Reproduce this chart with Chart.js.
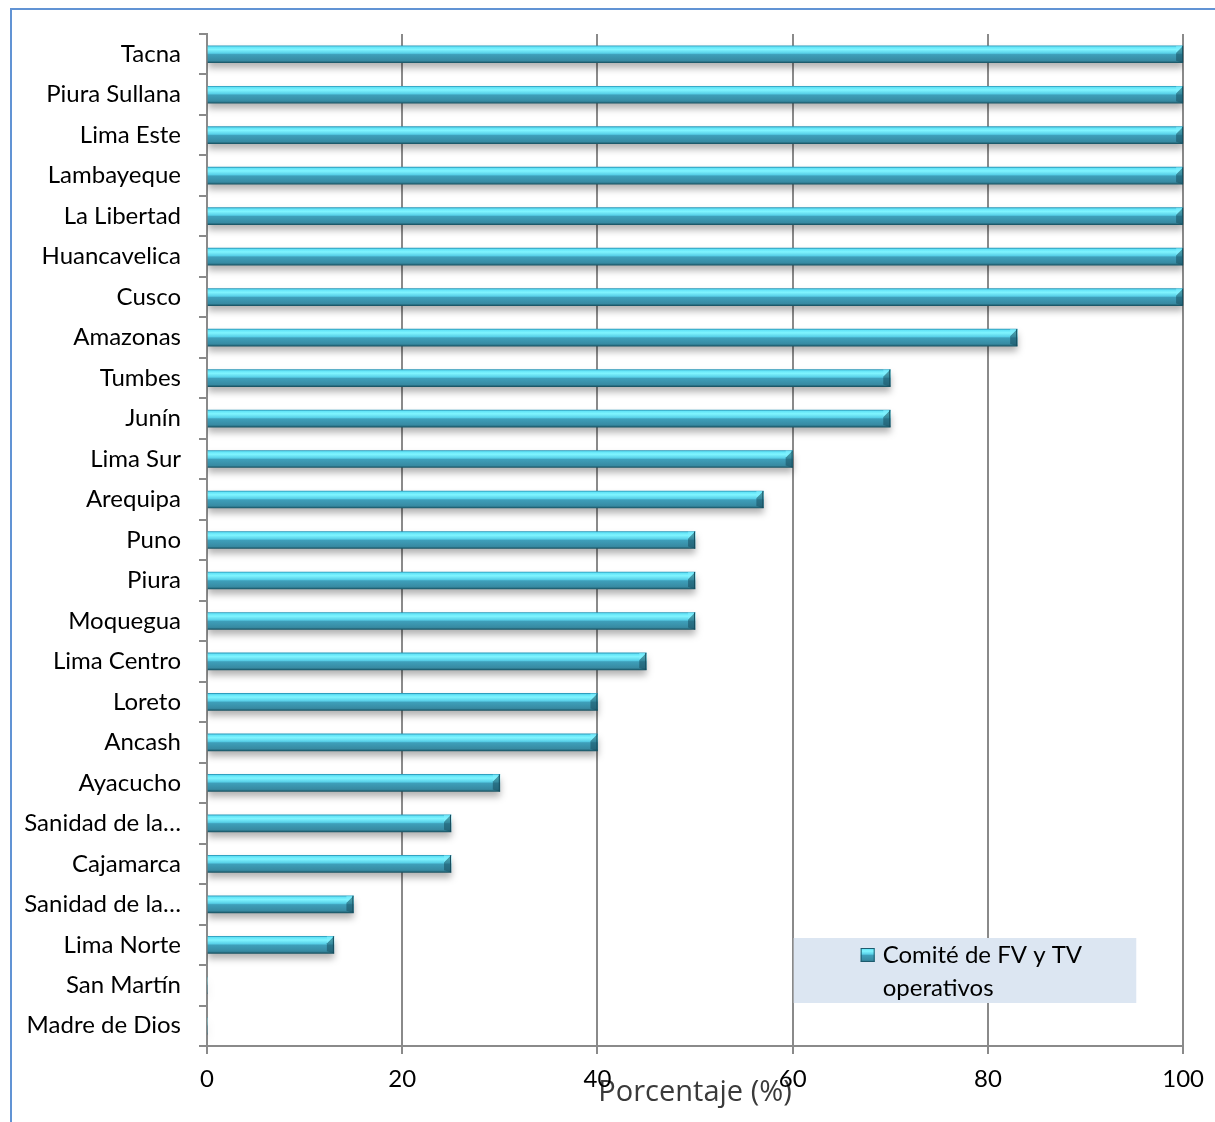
<!DOCTYPE html>
<html>
<head>
<meta charset="utf-8">
<script src="https://cdn.jsdelivr.net/npm/chart.js@4/dist/chart.umd.min.js"></script>
<style>
  html, body { margin: 0; padding: 0; background: #fff; overflow: hidden; }
  #frame {
    position: absolute; left: 10px; top: 8px; width: 1240px; height: 1140px;
    border-left: 2px solid #6193d4; border-top: 2px solid #6193d4;
  }
  #wrap { position: absolute; left: 0; top: 0; width: 1215px; height: 1122px; }
</style>
</head>
<body>
<div id="frame"></div>
<div id="wrap"><canvas id="grafico"></canvas></div>
<script>
// Regiones (de arriba hacia abajo, como en la figura)
const regiones = [
    'Tacna', 'Piura Sullana', 'Lima Este', 'Lambayeque', 'La Libertad',
    'Huancavelica', 'Cusco', 'Amazonas', 'Tumbes', 'Junín',
    'Lima Sur', 'Arequipa', 'Puno', 'Piura', 'Moquegua',
    'Lima Centro', 'Loreto', 'Ancash', 'Ayacucho', 'Sanidad de la…',
    'Cajamarca', 'Sanidad de la…', 'Lima Norte', 'San Martín', 'Madre de Dios'
];
// Porcentaje de comités operativos
const porcentajes = [
    100, 100, 100, 100, 100,
    100, 100, 83, 70, 70,
    60, 57, 50, 50, 50,
    45, 40, 40, 30, 25,
    25, 15, 13, 0, 0
];
const ticksX = [0, 20, 40, 60, 80, 100];
const etiquetaSerie = ['Comité de FV y TV', 'operativos'];
const tituloX = 'Porcentaje (%)';

const fuente = 'Lato, "Open Sans", sans-serif';
const gris = '#8a8a8a';
const grosorBarra = 17;

// Degradado vertical tipo "bisel" para cada barra
function degradado(c, yMid, h) {
    const g = c.createLinearGradient(0, yMid - h / 2, 0, yMid + h / 2);
    g.addColorStop(0, '#2b99b9');
    g.addColorStop(0.07, '#62e3f7');
    g.addColorStop(0.22, '#80f5ff');
    g.addColorStop(0.44, '#58d0e8');
    g.addColorStop(0.52, '#3e9fba');
    g.addColorStop(0.88, '#378aa2');
    g.addColorStop(1, '#1a5565');
    return g;
}

// Sombra bajo las barras
const sombra = {
    id: 'sombra',
    beforeDatasetsDraw(chart) {
        const c = chart.ctx;
        c.save();
        c.shadowColor = 'rgba(0,0,0,0.3)';
        c.shadowBlur = 7;
        c.shadowOffsetY = 5;
    },
    afterDatasetsDraw(chart) {
        chart.ctx.restore();
        // bisel en el extremo derecho
        const c = chart.ctx;
        chart.getDatasetMeta(0).data.forEach((bar, i) => {
            if (!porcentajes[i]) return;
            const h = grosorBarra, x = bar.x, y = bar.y - h / 2, w = 7;
            c.save();
            c.fillStyle = 'rgba(20,70,85,0.5)';
            c.beginPath();
            c.moveTo(x - w, y + w);
            c.lineTo(x, y);
            c.lineTo(x, y + h);
            c.lineTo(x - w, y + h - 2);
            c.closePath();
            c.fill();
            c.fillStyle = 'rgba(130,240,255,0.6)';
            c.beginPath();
            c.moveTo(x - w, y + w);
            c.lineTo(x, y);
            c.lineTo(x - w, y);
            c.closePath();
            c.fill();
            c.strokeStyle = '#174e5e';
            c.lineWidth = 1;
            c.beginPath();
            c.moveTo(x - 0.5, y);
            c.lineTo(x - 0.5, y + h);
            c.stroke();
            c.restore();
        });
    }
};

// Leyenda dentro del área del gráfico (abajo a la derecha)
const leyenda = {
    id: 'leyendaInterna',
    afterDraw(chart) {
        const c = chart.ctx;
        const x = chart.scales.x;
        const area = chart.chartArea;
        const izq = x.getPixelForValue(60) + 1;
        const der = x.getPixelForValue(95.2);
        const abajo = area.bottom - 43;
        const arriba = area.bottom - 108;
        c.save();
        c.fillStyle = '#dce6f2';
        c.fillRect(izq, arriba, der - izq, abajo - arriba);
        const mx = izq + 67, my = arriba + 10;
        c.fillStyle = degradado(c, my + 7, 14);
        c.fillRect(mx, my, 14, 14);
        c.strokeStyle = '#1d5b6e';
        c.lineWidth = 1;
        c.strokeRect(mx + 0.5, my + 0.5, 13, 13);
        c.fillStyle = '#000';
        c.font = '24px ' + fuente;
        c.textBaseline = 'middle';
        c.textAlign = 'left';
        c.fillText(etiquetaSerie[0], mx + 22, arriba + 17);
        c.fillText(etiquetaSerie[1], mx + 22, arriba + 50);
        c.restore();
    }
};

const ctx = document.getElementById('grafico').getContext('2d');
new Chart(ctx, {
    type: 'bar',
    data: {
        labels: regiones,
        datasets: [{
            label: etiquetaSerie.join(' '),
            data: porcentajes,
            barThickness: grosorBarra,
            borderWidth: 0,
            backgroundColor: function(context) {
                const chart = context.chart;
                if (context.type !== 'data' || !chart.chartArea || !chart.scales.y) return '#3aa5c2';
                const y = chart.scales.y.getPixelForValue(context.dataIndex);
                if (!isFinite(y)) return '#3aa5c2';
                return degradado(chart.ctx, y, grosorBarra);
            }
        }]
    },
    options: {
        indexAxis: 'y',
        responsive: true,
        maintainAspectRatio: false,
        animation: false,
        layout: { padding: { top: 34, right: 30, left: 0, bottom: 0 } },
        plugins: {
            legend: { display: false },
            tooltip: { enabled: false }
        },
        scales: {
            x: {
                min: 0,
                max: 100,
                afterBuildTicks: function(scale) {
                    scale.ticks = ticksX.map(v => ({ value: v }));
                },
                afterFit: function(scale) { scale.height = 76; },
                grid: { color: gris, lineWidth: 2, tickLength: 8, drawTicks: true },
                border: { color: gris, width: 2 },
                ticks: {
                    color: '#000',
                    padding: 11,
                    font: { family: fuente, size: 24 }
                },
                title: {
                    display: true,
                    text: tituloX,
                    color: '#3a3a3a',
                    font: { family: '"Open Sans", sans-serif', size: 29 },
                    padding: { top: 0, bottom: 12 }
                }
            },
            y: {
                afterFit: function(scale) { scale.width = 207; },
                grid: { display: true, drawOnChartArea: false, color: gris, lineWidth: 2, tickLength: 8, offset: true },
                border: { color: gris, width: 2 },
                ticks: {
                    color: '#000',
                    padding: 18,
                    autoSkip: false,
                    font: { family: fuente, size: 24 }
                }
            }
        }
    },
    plugins: [sombra, leyenda]
});
</script>
</body>
</html>
